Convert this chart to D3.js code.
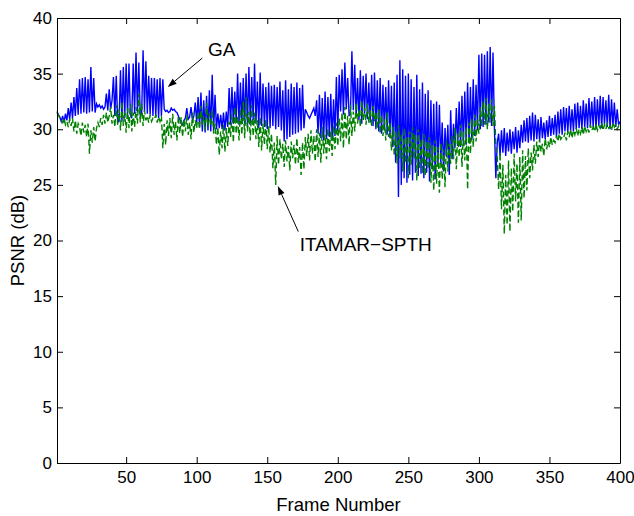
<!DOCTYPE html>
<html lang="en">
<head>
<meta charset="UTF-8">
<script src="https://d3js.org/d3.v7.min.js"></script>
<style>
  body { margin: 0; background: #fff; }
  #chart text { font-family: "Liberation Sans", Arial, Helvetica, sans-serif; }
</style>
</head>
<body>
<div id="chart"></div>
<script>
// PSNR per frame (frames 1..400)
const gaPsnr = [
  31.6,31.3,31.1,30.7,31.2,30.6,31.4,30.8,31.9,30.9,
  32.4,31.0,32.9,31.2,33.7,31.3,34.5,31.4,34.6,31.5,
  34.7,31.4,34.5,31.5,35.6,31.6,34.6,31.5,32.3,32.0,
  32.2,31.9,32.1,31.8,32.0,33.2,31.7,33.6,31.8,32.6,
  34.7,31.2,34.8,30.6,30.8,35.3,30.7,35.6,31.0,35.9,
  31.2,35.9,31.3,31.0,35.9,31.4,36.9,31.5,36.0,31.2,
  31.4,37.1,31.6,36.1,31.4,34.8,31.3,34.6,31.2,34.6,
  31.1,34.5,31.0,34.6,31.2,34.5,31.8,31.6,31.7,31.5,
  31.6,31.9,31.7,31.8,31.6,31.5,31.2,30.9,30.5,30.4,
  30.8,31.0,31.9,30.9,31.1,32.0,30.8,31.2,32.4,30.6,
  32.9,30.2,33.3,29.8,32.6,29.7,33.0,29.9,33.5,29.8,
  34.9,29.9,33.1,30.0,31.4,30.1,31.3,30.0,31.5,29.9,
  31.6,30.2,33.7,30.4,33.8,30.5,33.4,30.6,35.0,30.4,
  34.2,30.5,34.6,30.3,35.0,30.2,35.6,30.4,34.7,30.8,
  35.9,30.5,34.3,30.1,35.1,30.3,34.1,30.2,33.8,30.0,
  34.2,30.1,33.9,30.3,34.0,30.0,33.8,30.2,34.3,29.9,
  33.5,28.9,34.4,29.1,33.6,29.3,34.1,29.5,33.8,29.6,
  34.2,29.7,33.7,29.9,34.0,30.1,31.8,31.5,31.2,31.0,
  31.3,31.6,31.9,31.2,32.6,29.6,33.1,29.2,32.8,29.0,
  33.4,29.1,32.9,29.3,33.2,29.0,32.7,29.4,34.7,29.8,
  34.9,31.6,35.4,31.3,36.0,31.8,34.6,31.2,31.5,37.0,
  31.7,35.8,31.1,34.6,30.8,35.3,30.5,34.8,31.4,35.0,
  30.9,34.2,30.6,34.9,30.3,35.1,30.0,34.4,29.8,34.6,
  29.6,34.0,29.9,33.8,29.5,34.4,29.2,33.9,28.4,34.2,
  27.0,34.9,23.9,36.2,25.0,35.4,25.6,34.8,25.2,35.0,
  25.9,34.5,25.4,33.8,26.1,34.9,25.8,33.6,26.0,34.2,
  25.6,33.2,26.1,33.5,25.3,32.6,26.4,32.3,25.5,32.5,
  26.8,32.2,27.0,30.6,26.2,30.1,27.5,30.4,25.9,31.7,
  27.3,30.5,28.3,31.9,28.5,32.5,28.4,33.0,28.7,33.4,
  28.6,34.2,28.8,33.8,29.0,34.5,29.4,34.0,29.9,36.7,
  30.0,36.8,30.2,36.7,30.4,37.0,30.6,37.4,30.3,36.9,
  30.1,25.6,28.8,29.6,27.6,29.9,27.9,30.1,27.6,29.7,
  28.0,30.0,27.8,29.8,28.2,30.2,27.9,29.9,28.3,30.4,
  28.8,30.8,28.9,31.0,28.8,31.2,29.0,31.5,28.9,31.3,
  29.1,30.9,29.0,31.1,29.2,30.6,29.1,30.8,29.3,31.2,
  29.4,31.0,29.5,31.3,29.3,31.6,29.6,31.8,29.5,32.0,
  29.8,31.9,29.7,32.1,29.9,31.8,29.8,32.3,30.0,32.4,
  30.1,32.1,30.0,32.6,30.2,32.3,30.1,32.8,30.3,32.5,
  30.2,32.9,30.0,32.7,30.3,33.0,30.1,32.9,30.4,32.6,
  30.2,33.1,30.0,32.7,30.3,32.4,30.2,31.8,30.4,30.7
];

const itamarPsnr = [
  31.5,31.3,31.0,30.8,30.6,31.0,30.4,30.7,30.2,30.9,
  30.3,31.0,29.8,30.8,29.6,30.5,30.2,29.4,30.6,29.7,
  30.4,29.3,30.5,27.8,29.9,28.8,30.2,28.9,30.1,30.6,
  30.2,31.0,30.4,31.3,30.5,31.5,30.6,31.2,32.0,30.5,
  31.3,30.2,32.2,30.4,31.8,29.9,32.5,30.3,31.6,29.7,
  31.9,30.1,32.3,29.8,31.5,30.2,32.0,30.5,33.2,30.6,
  32.4,30.3,31.7,30.8,31.2,30.6,31.3,30.7,31.0,30.9,
  31.3,30.6,31.1,30.7,31.2,28.3,30.5,28.6,30.8,29.4,
  31.0,29.2,31.4,29.5,30.7,29.0,31.2,29.6,31.1,29.3,
  30.9,29.8,31.3,29.5,30.6,29.1,31.5,29.7,30.8,30.1,
  31.6,30.0,32.1,30.4,31.2,29.9,32.4,30.2,31.4,30.3,
  31.8,29.6,30.5,28.6,30.2,27.7,29.8,28.3,30.4,28.0,
  30.1,28.5,30.7,29.3,31.4,28.8,32.0,29.6,31.2,29.0,
  31.8,29.5,32.5,29.2,32.9,29.8,31.6,29.0,32.2,29.4,
  31.5,29.1,30.8,28.4,31.1,28.1,30.5,28.6,30.9,28.2,
  30.3,27.9,29.6,26.5,28.8,25.0,29.4,26.8,29.1,27.3,
  28.7,26.6,29.0,27.1,28.5,26.3,28.9,27.4,28.6,26.8,
  29.2,27.0,28.4,25.9,28.8,26.4,29.3,27.6,29.6,27.2,
  29.9,27.8,29.4,27.1,30.0,27.5,29.7,27.0,30.2,27.8,
  29.5,27.3,30.1,28.0,29.8,27.6,30.3,28.2,30.6,28.5,
  31.0,28.9,31.5,28.3,32.0,29.1,31.2,28.6,32.2,29.4,
  31.6,29.8,32.4,30.5,31.8,30.2,32.6,30.8,31.9,30.4,
  32.3,30.6,31.7,30.2,32.1,30.7,31.5,30.0,31.8,29.6,
  31.3,29.4,30.9,29.0,31.5,29.3,30.6,28.1,30.2,27.6,
  29.8,26.9,30.4,27.4,29.6,26.2,30.1,27.0,29.3,25.6,
  29.8,26.8,30.2,27.3,29.5,25.4,30.0,26.5,29.1,26.0,
  29.6,25.8,28.9,26.4,29.3,25.2,28.6,24.5,29.0,25.1,
  28.4,24.3,28.8,25.5,28.2,24.8,29.0,26.2,28.7,26.9,
  29.4,27.3,30.1,26.4,29.6,27.5,30.4,26.6,29.8,27.2,
  30.2,24.6,30.6,27.8,30.9,28.4,31.3,28.9,31.0,29.6,
  32.0,30.2,32.5,30.4,32.8,30.0,32.3,30.6,32.7,30.3,
  32.1,28.5,27.4,24.6,27.9,22.8,26.8,20.6,25.9,21.4,
  27.2,20.8,26.5,22.6,27.8,23.5,26.9,21.6,27.5,21.8,
  28.1,23.8,27.6,24.5,28.3,25.6,27.9,26.3,28.6,26.9,
  28.9,27.5,29.1,28.0,28.7,27.6,29.2,28.2,28.9,28.4,
  29.3,28.6,29.0,28.8,29.4,28.9,29.6,29.1,29.3,29.2,
  29.7,29.0,29.8,29.3,30.0,29.2,29.9,29.5,30.1,29.4,
  30.0,29.6,30.2,29.5,30.3,29.8,30.1,29.7,30.4,29.9,
  30.2,29.8,30.5,29.9,30.3,30.1,30.6,29.9,30.4,30.0,
  30.5,30.1,30.3,29.9,30.6,30.2,30.4,30.0,30.3,30.1
];

const xTicks = [50, 100, 150, 200, 250, 300, 350, 400];
const yTicks = [0, 5, 10, 15, 20, 25, 30, 35, 40];

// annotations: [text, text frame, text dB, arrow tail frame, tail dB, head frame, head dB]
const notes = [
  ["GA", 108, 36.6, 104, 36.4, 79.5, 33.8],
  ["ITAMAR\u2212SPTH", 173, 19.1, 172, 20.8, 157.5, 24.9]
];

function drawChart() {
  const width = 634, height = 516;
  const marginLeft = 57, marginRight = 14, marginTop = 18, marginBottom = 53;

  const frames = d3.range(1, gaPsnr.length + 1);

  const x = d3.scaleLinear().domain([1, 400]).range([marginLeft, width - marginRight]);
  const y = d3.scaleLinear().domain([0, 40]).range([height - marginBottom, marginTop]);

  const svg = d3.select("#chart").append("svg")
      .attr("width", width)
      .attr("height", height)
      .attr("viewBox", [0, 0, width, height]);

  svg.append("rect").attr("width", width).attr("height", height).attr("fill", "#fff");

  const line = d3.line()
      .x((d, i) => x(frames[i]))
      .y(d => y(d));

  svg.append("path")
      .attr("fill", "none")
      .attr("stroke", "#0000ff")
      .attr("stroke-width", 1.4)
      .attr("d", line(gaPsnr));

  svg.append("path")
      .attr("fill", "none")
      .attr("stroke", "#008000")
      .attr("stroke-width", 1.4)
      .attr("stroke-dasharray", "6,3")
      .attr("d", line(itamarPsnr));

  const fontSize = 17;

  // axes, MATLAB style: ticks inside on all four sides
  svg.append("g")
      .attr("transform", `translate(0,${y(0)})`)
      .call(d3.axisBottom(x).tickValues(xTicks).tickSize(-6).tickPadding(8).tickSizeOuter(0))
      .call(g => g.selectAll("text").attr("font-size", fontSize));
  svg.append("g")
      .attr("transform", `translate(0,${y(40)})`)
      .call(d3.axisTop(x).tickValues(xTicks).tickSize(-6).tickFormat("").tickSizeOuter(0));
  svg.append("g")
      .attr("transform", `translate(${x(1)},0)`)
      .call(d3.axisLeft(y).tickValues(yTicks).tickSize(-6).tickPadding(5).tickSizeOuter(0))
      .call(g => g.selectAll("text").attr("font-size", fontSize));
  svg.append("g")
      .attr("transform", `translate(${x(400)},0)`)
      .call(d3.axisRight(y).tickValues(yTicks).tickSize(-6).tickFormat("").tickSizeOuter(0));

  svg.selectAll(".domain").attr("stroke", "#000").attr("stroke-width", 1);
  svg.selectAll(".tick line").attr("stroke", "#000");
  svg.selectAll(".tick text").attr("fill", "#000");

  svg.append("text")
      .attr("x", (x(1) + x(400)) / 2)
      .attr("y", 511)
      .attr("text-anchor", "middle")
      .attr("font-size", 18.5)
      .text("Frame Number");

  svg.append("text")
      .attr("transform", `translate(24,${(y(0) + y(40)) / 2}) rotate(-90)`)
      .attr("text-anchor", "middle")
      .attr("font-size", 18.5)
      .text("PSNR (dB)");

  // annotation arrows
  notes.forEach(([label, tx, ty, x0, y0, x1, y1]) => {
    const ax = x(x0), ay = y(y0), bx = x(x1), by = y(y1);
    const ang = Math.atan2(by - ay, bx - ax);
    const len = 9, half = 3.2;
    const px = bx - len * Math.cos(ang), py = by - len * Math.sin(ang);
    svg.append("line")
        .attr("x1", ax).attr("y1", ay).attr("x2", px).attr("y2", py)
        .attr("stroke", "#000").attr("stroke-width", 1);
    svg.append("path")
        .attr("d", `M${bx},${by}L${px - half * Math.sin(ang)},${py + half * Math.cos(ang)}L${px + half * Math.sin(ang)},${py - half * Math.cos(ang)}Z`)
        .attr("fill", "#000");
    svg.append("text")
        .attr("x", x(tx))
        .attr("y", y(ty))
        .attr("font-size", 19)
        .text(label);
  });
}

drawChart();
</script>
</body>
</html>
